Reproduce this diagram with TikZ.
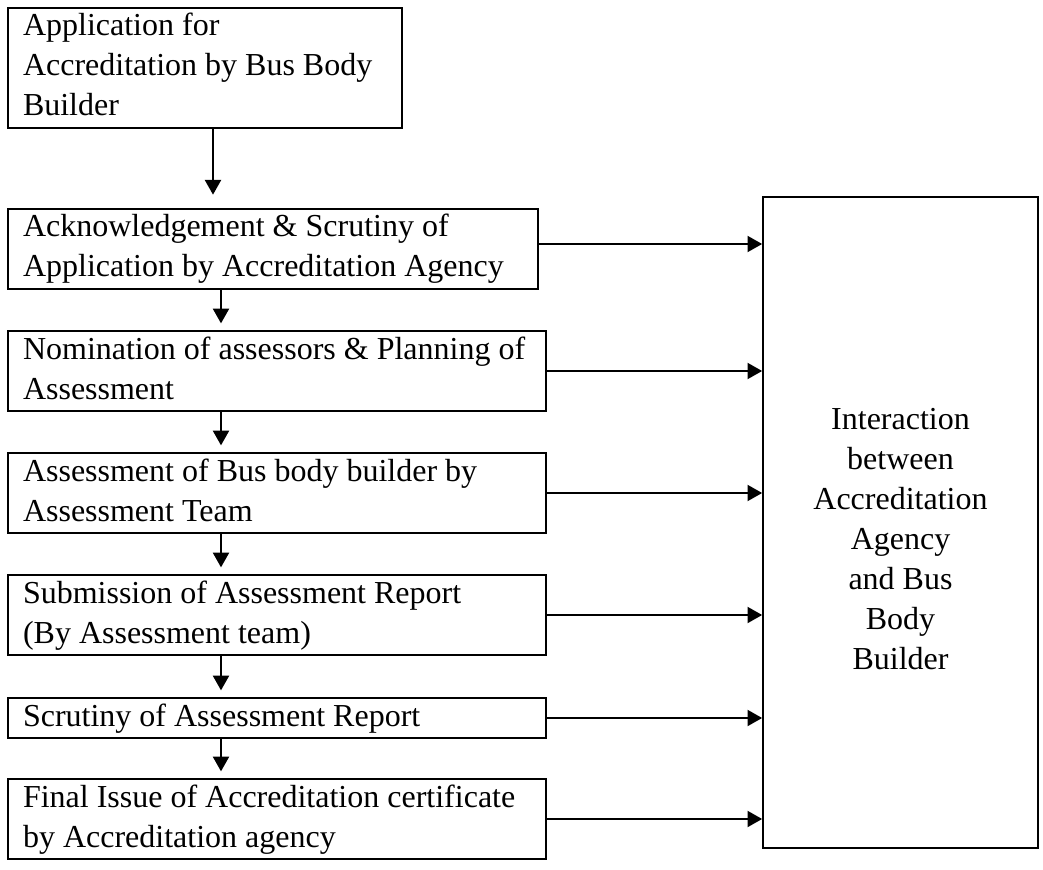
\documentclass[tikz,border=0pt]{standalone}
\usepackage{fontspec}
\setmainfont{Liberation Serif}
\usetikzlibrary{positioning, calc, arrows.meta}
\tikzstyle{stage} = [draw,line width=1.5pt,anchor=north west,align=flush left,inner xsep=11.25pt,inner ysep=0pt,font=\fontsize{24}{30}\selectfont,execute at begin node=\strut,execute at end node=\strut]
\tikzstyle{arrow} = [line width=1.5pt,-{Triangle[length=11pt,width=12pt]}]

\begin{document}
\begin{tikzpicture}[x=0.75pt,y=-0.75pt]
    \useasboundingbox (0,0) rectangle (1043,870);
   	\node[stage,text width=273pt](b_0) at (7,7) {Application for\\Accreditation by Bus Body\\Builder};
   	\node[stage,text width=375pt](b_1) at (7,208) {Acknowledgement \& Scrutiny of\\Application by Accreditation Agency};
   	\node[stage,text width=381pt](b_2) at (7,330) {Nomination of assessors \& Planning of\\Assessment};
   	\node[stage,text width=381pt](b_3) at (7,452) {Assessment of Bus body builder by\\Assessment Team};
   	\node[stage,text width=381pt](b_4) at (7,574) {Submission of Assessment Report\\(By Assessment team)};
   	\node[stage,text width=381pt](b_5) at (7,697) {Scrutiny of Assessment Report};
   	\node[stage,text width=381pt](b_6) at (7,778) {Final Issue of Accreditation certificate\\by Accreditation agency};
   	\node[draw,line width=1.5pt,minimum width=206pt,minimum height=488pt](inter) at (900.5,522.5) {};
   	\node[align=center,font=\fontsize{24}{30}\selectfont](inter_txt) at (900.5,539) {Interaction\\between\\Accreditation\\Agency\\and Bus\\Body\\Builder};
    \coordinate (ack_out) at ($(b_1.east)+(0,-5)$);
    % down the chain
    \draw[arrow,shorten >=10pt] ($(b_0.south west)+(206,0)$) -- ($(b_1.north west)+(206,0)$);
    \foreach \i/\j in {1/2,2/3,3/4,4/5,5/6}
      \draw[arrow,shorten >=5pt] ($(b_\i.south west)+(214,0)$) -- ($(b_\j.north west)+(214,0)$);
    % across to the interaction box
    \draw[arrow] (ack_out) -- (ack_out -| inter.west);
    \foreach \i in {2,...,6}
      \draw[arrow] (b_\i.east) -- (b_\i.east -| inter.west);
\end{tikzpicture}
\end{document}
